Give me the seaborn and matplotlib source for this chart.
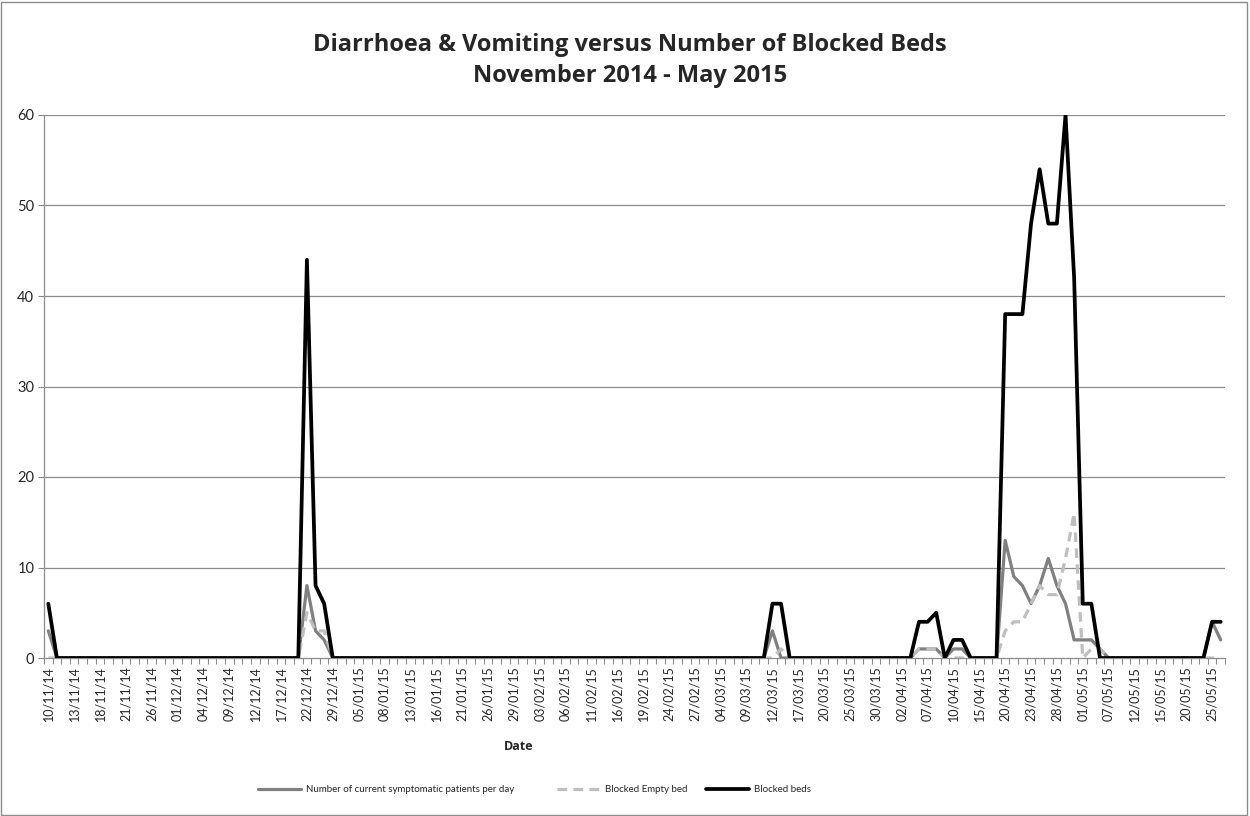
import numpy as np
import pandas as pd
import matplotlib
matplotlib.use("Agg")
import matplotlib.pyplot as plt
from matplotlib.patches import Rectangle
import seaborn as sns

# Working days covered by the report (bank holidays left out)
holidays = ["2014-12-25", "2014-12-26", "2015-01-01", "2015-01-02", "2015-05-04"]
days = pd.bdate_range("2014-11-10", "2015-05-26")
days = days[~days.isin(pd.to_datetime(holidays))]
date_labels = [d.strftime("%d/%m/%y") for d in days]

symptomatic = [
    3, 0, 0, 0, 0, 0, 0, 0, 0, 0,
    0, 0, 0, 0, 0, 0, 0, 0, 0, 0,
    0, 0, 0, 0, 0, 0, 0, 0, 0, 0,
    8, 3, 2, 0, 0, 0, 0, 0, 0, 0,
    0, 0, 0, 0, 0, 0, 0, 0, 0, 0,
    0, 0, 0, 0, 0, 0, 0, 0, 0, 0,
    0, 0, 0, 0, 0, 0, 0, 0, 0, 0,
    0, 0, 0, 0, 0, 0, 0, 0, 0, 0,
    0, 0, 0, 0, 3, 0, 0, 0, 0, 0,
    0, 0, 0, 0, 0, 0, 0, 0, 0, 0,
    0, 1, 1, 1, 0, 1, 1, 0, 0, 0,
    0, 13, 9, 8, 6, 8, 11, 8, 6, 2,
    2, 2, 1, 0, 0, 0, 0, 0, 0, 0,
    0, 0, 0, 0, 0, 4, 2,
]

blocked_empty = [
    0, 0, 0, 0, 0, 0, 0, 0, 0, 0,
    0, 0, 0, 0, 0, 0, 0, 0, 0, 0,
    0, 0, 0, 0, 0, 0, 0, 0, 0, 0,
    5, 3, 3, 0, 0, 0, 0, 0, 0, 0,
    0, 0, 0, 0, 0, 0, 0, 0, 0, 0,
    0, 0, 0, 0, 0, 0, 0, 0, 0, 0,
    0, 0, 0, 0, 0, 0, 0, 0, 0, 0,
    0, 0, 0, 0, 0, 0, 0, 0, 0, 0,
    0, 0, 0, 0, 0, 1, 0, 0, 0, 0,
    0, 0, 0, 0, 0, 0, 0, 0, 0, 0,
    0, 1, 1, 1, 0, 0, 0, 0, 0, 0,
    0, 3, 4, 4, 6, 8, 7, 7, 11, 16,
    0, 1, 1, 0, 0, 0, 0, 0, 0, 0,
    0, 0, 0, 0, 0, 0, 0,
]

blocked_beds = [
    6, 0, 0, 0, 0, 0, 0, 0, 0, 0,
    0, 0, 0, 0, 0, 0, 0, 0, 0, 0,
    0, 0, 0, 0, 0, 0, 0, 0, 0, 0,
    44, 8, 6, 0, 0, 0, 0, 0, 0, 0,
    0, 0, 0, 0, 0, 0, 0, 0, 0, 0,
    0, 0, 0, 0, 0, 0, 0, 0, 0, 0,
    0, 0, 0, 0, 0, 0, 0, 0, 0, 0,
    0, 0, 0, 0, 0, 0, 0, 0, 0, 0,
    0, 0, 0, 0, 6, 6, 0, 0, 0, 0,
    0, 0, 0, 0, 0, 0, 0, 0, 0, 0,
    0, 4, 4, 5, 0, 2, 2, 0, 0, 0,
    0, 38, 38, 38, 48, 54, 48, 48, 60, 42,
    6, 6, 0, 0, 0, 0, 0, 0, 0, 0,
    0, 0, 0, 0, 0, 4, 4,
]

series_names = [
    "Number of current symptomatic patients per day",
    "Blocked Empty bed",
    "Blocked beds",
]

n = len(date_labels)
pos = np.arange(n)

sns.set_style("white")
plt.rcParams["font.family"] = ["Lato", "DejaVu Sans"]
bold_family = ["Open Sans", "DejaVu Sans"]

fig = plt.figure(figsize=(12.5, 8.16), dpi=100)
W, H = 1250, 816
ax = fig.add_axes([44 / W, 1 - 658 / H, (1225 - 44) / W, (658 - 115) / H])

grid_col = "#8c8c8c"
for v in range(10, 61, 10):
    ax.axhline(v, color=grid_col, lw=0.9, zorder=0)

dash_pattern = (3.0, 2.0)
sns.lineplot(x=pos, y=symptomatic, ax=ax, color="#808080", lw=2.3,
             label=series_names[0], zorder=3)
sns.lineplot(x=pos, y=blocked_empty, ax=ax, color="#bfbfbf", lw=2.3,
             label=series_names[1], zorder=4)
ax.lines[-1].set_dashes(dash_pattern)
sns.lineplot(x=pos, y=blocked_beds, ax=ax, color="#000000", lw=2.7,
             label=series_names[2], zorder=5)

ax.set_xlim(-0.5, n - 0.5)
ax.set_ylim(0, 60)
ax.set_yticks(range(0, 61, 10))
ax.set_yticklabels([str(v) for v in range(0, 61, 10)], fontsize=10.5)

ax.set_xticks(pos[::3])
ax.set_xticklabels(date_labels[::3], rotation=90, fontsize=9)
ax.set_xticks(np.arange(-0.5, n, 1), minor=True)
ax.tick_params(axis="x", which="major", length=0, pad=6)
ax.tick_params(axis="x", which="minor", length=4, color=grid_col, width=0.8,
               direction="out", bottom=True)
ax.tick_params(axis="y", length=4, color=grid_col, width=0.8, direction="out",
               left=True, pad=3)

for side in ["top", "right"]:
    ax.spines[side].set_visible(False)
for side in ["left", "bottom"]:
    ax.spines[side].set_color(grid_col)
    ax.spines[side].set_linewidth(0.9)
ax.set_xlabel("")
ax.set_ylabel("")

# Legend: one entry per slot, spaced evenly along the bottom
ax.get_legend().remove()
handles, labels = ax.get_legend_handles_labels()
handles[1].set_dashes(dash_pattern)
legend_x = [258, 557, 706]
for h, lab, lx in zip(handles, labels, legend_x):
    leg = fig.legend([h], [lab], loc="center left",
                     bbox_to_anchor=(lx / W, 1 - 790 / H),
                     frameon=False, fontsize=7, handlelength=4.4,
                     handletextpad=0.5, borderpad=0, borderaxespad=0)

fig.text(630 / W, 1 - 45 / H, "Diarrhoea & Vomiting versus Number of Blocked Beds",
         ha="center", va="center", fontsize=17, fontweight="bold",
         family=bold_family)
fig.text(630 / W, 1 - 76 / H, "November 2014 - May 2015",
         ha="center", va="center", fontsize=17, fontweight="bold",
         family=bold_family)
fig.text(519 / W, 1 - 747 / H, "Date", ha="center", va="center",
         fontsize=9, fontweight="bold", family=bold_family)

fig.patches.append(Rectangle((1 / W, 1 / H), (W - 4) / W, (H - 3) / H,
                             transform=fig.transFigure, fill=False,
                             edgecolor="#8c8c8c", lw=1))

fig.savefig("out.png", dpi=100)
